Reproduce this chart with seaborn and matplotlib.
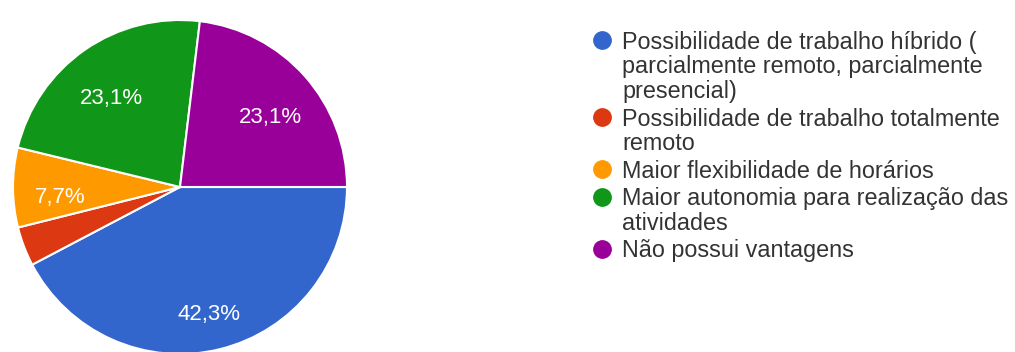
import matplotlib
matplotlib.use("Agg")
import matplotlib.pyplot as plt
import seaborn as sns
from matplotlib.lines import Line2D

sns.set_theme(style="white")
plt.rcParams['font.family'] = ['Liberation Sans', 'DejaVu Sans']

# Survey answers: advantages of the new working model
categories = [
    "Possibilidade de trabalho híbrido (\nparcialmente remoto, parcialmente\npresencial)",
    "Possibilidade de trabalho totalmente\nremoto",
    "Maior flexibilidade de horários",
    "Maior autonomia para realização das\natividades",
    "Não possui vantagens",
]
percentages = [42.3, 3.8, 7.7, 23.1, 23.1]
slice_colors = ["#3366CC", "#DC3912", "#FF9900", "#109618", "#990099"]

W, H = 1015, 352
fig = plt.figure(figsize=(W / 100, H / 100), dpi=100)
fig.patch.set_facecolor("white")

# pie: centre (180, 187) px, radius 167 px
cx, cy, r = 180, 187, 167
ax = fig.add_axes([(cx - r) / W, (H - cy - r) / H, 2 * r / W, 2 * r / H])
palette = sns.color_palette(slice_colors)


def pct_label(p):
    # small slices get no label
    return f"{p:.1f}%".replace(".", ",") if p >= 5 else ""


wedges, texts, autotexts = ax.pie(
    percentages,
    colors=palette,
    startangle=0,
    counterclock=False,
    autopct=pct_label,
    pctdistance=0.72,
    wedgeprops=dict(edgecolor="white", linewidth=1.5),
    textprops=dict(color="white", fontsize=16),
)
for t in autotexts:
    t.set_verticalalignment("top")
ax.set_xlim(-1, 1)
ax.set_ylim(-1, 1)
ax.set_aspect("equal")
ax.axis("off")

handles = [
    Line2D([], [], marker="o", linestyle="", markersize=12.5,
           markerfacecolor=c, markeredgecolor=c)
    for c in palette
]
leg = fig.legend(
    handles, categories,
    loc="upper left",
    bbox_to_anchor=(593 / W, 1 - 31 / H),
    frameon=False,
    fontsize=16.8,
    labelcolor="#333333",
    handlelength=0.8,
    handleheight=1.0,
    handletextpad=0.45,
    labelspacing=0.2,
    borderpad=0,
    borderaxespad=0,
)
for t in leg.get_texts():
    t.set_linespacing(1.08)
# keep each marker level with the first line of its label
for column in leg._legend_handle_box.get_children():
    for entry in column.get_children():
        entry.align = "top"

fig.savefig("out.png", dpi=100, facecolor="white")
